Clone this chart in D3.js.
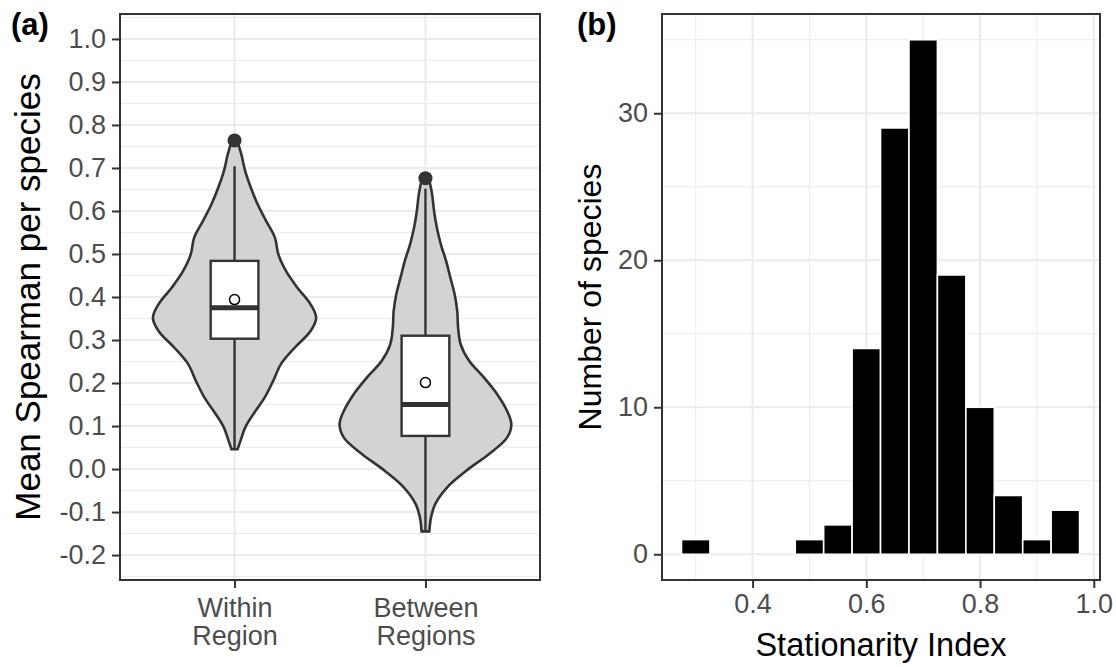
<!DOCTYPE html>
<html lang="en">
<head>
<meta charset="UTF-8">
<title>Spearman and stationarity</title>
<style>
  body { margin: 0; background: #fff; }
  svg text { font-family: "Liberation Sans", Arial, sans-serif; }
</style>
</head>
<body>
<svg id="chart" width="1116" height="667"></svg>

<script src="https://d3js.org/d3.v7.min.js"></script>
<script>

// ---- data, panel (a) ----
var groups = ["Within Region", "Between Regions"];
var groupLines = [["Within", "Region"], ["Between", "Regions"]];

// violin outlines: value, relative density (1 = widest)
var withinY = [0.765, 0.731, 0.692, 0.654, 0.615, 0.576, 0.538, 0.499, 0.460, 0.422,
  0.383, 0.352, 0.321, 0.282, 0.244, 0.205, 0.166, 0.128, 0.097, 0.066, 0.046];
var withinDens = [0.03, 0.08, 0.125, 0.19, 0.27, 0.37, 0.47, 0.51, 0.60, 0.73,
  0.885, 0.95, 0.885, 0.70, 0.54, 0.45, 0.35, 0.22, 0.125, 0.07, 0.035];
var betweenY = [0.676, 0.638, 0.600, 0.561, 0.522, 0.484, 0.445, 0.406, 0.367, 0.329,
  0.290, 0.251, 0.213, 0.174, 0.135, 0.104, 0.073, 0.035, -0.004, -0.043, -0.081, -0.112, -0.145];
var betweenDens = [0.04, 0.078, 0.10, 0.133, 0.18, 0.24, 0.29, 0.34, 0.37, 0.38,
  0.41, 0.51, 0.68, 0.835, 0.95, 1.0, 0.95, 0.74, 0.475, 0.25, 0.115, 0.065, 0.045];

var boxQ1 = [0.303, 0.077];
var boxMedian = [0.375, 0.150];
var boxQ3 = [0.484, 0.310];
var whiskerLow = [0.048, -0.145];
var whiskerHigh = [0.704, 0.652];
var groupMean = [0.394, 0.201];
var outliers = [0.764, 0.676];

var ticksA = [-0.2, -0.1, 0.0, 0.1, 0.2, 0.3, 0.4, 0.5, 0.6, 0.7, 0.8, 0.9, 1.0];
var minorA = [-0.25, -0.15, -0.05, 0.05, 0.15, 0.25, 0.35, 0.45, 0.55, 0.65, 0.75, 0.85, 0.95, 1.05];

// ---- data, panel (b) ----
var binCenters = [0.30, 0.35, 0.40, 0.45, 0.50, 0.55, 0.60, 0.65, 0.70, 0.75, 0.80, 0.85, 0.90, 0.95];
var binCounts = [1, 0, 0, 0, 1, 2, 14, 29, 35, 19, 10, 4, 1, 3];
var binWidth = 0.05;
var ticksBx = [0.4, 0.6, 0.8, 1.0];
var minorBx = [0.3, 0.5, 0.7, 0.9];
var ticksBy = [0, 10, 20, 30];
var minorBy = [5, 15, 25, 35];

var svg = d3.select("#chart");
var grid = "#ebebeb", dark = "#333333", tickText = "#4d4d4d";

function fmt(v) { return v.toFixed(1); }

// ================= panel (a) =================
var pa = { l: 120, r: 540, t: 14, b: 580 };
var xA = d3.scalePoint().domain(groups).range([pa.l, pa.r]).padding(0.6);
var yA = d3.scaleLinear().domain([-0.258, 1.058]).range([pa.b, pa.t]);
var wA = d3.scaleLinear().domain([0, 1]).range([0, 0.45 * xA.step()]);
var boxHalf = 0.125 * xA.step();

var gA = svg.append("g");

gA.selectAll(".minor").data(minorA).join("line")
  .attr("x1", pa.l).attr("x2", pa.r)
  .attr("y1", d => yA(d)).attr("y2", d => yA(d))
  .attr("stroke", grid).attr("stroke-width", 1);
gA.selectAll(".major").data(ticksA).join("line")
  .attr("x1", pa.l).attr("x2", pa.r)
  .attr("y1", d => yA(d)).attr("y2", d => yA(d))
  .attr("stroke", grid).attr("stroke-width", 2);
gA.selectAll(".vmajor").data(groups).join("line")
  .attr("x1", d => xA(d)).attr("x2", d => xA(d))
  .attr("y1", pa.t).attr("y2", pa.b)
  .attr("stroke", grid).attr("stroke-width", 2);

var violins = [
  { g: groups[0], y: withinY, d: withinDens },
  { g: groups[1], y: betweenY, d: betweenDens }
];

violins.forEach(function (v) {
  var pts = v.y.map((y, i) => ({ y: y, d: v.d[i] }));
  var cx = xA(v.g);
  var area = d3.area()
    .y(p => yA(p.y))
    .x0(p => cx - wA(p.d))
    .x1(p => cx + wA(p.d))
    .curve(d3.curveCatmullRom);
  gA.append("path")
    .attr("d", area(pts))
    .attr("fill", "#d3d3d3")
    .attr("stroke", dark)
    .attr("stroke-width", 2.6);
});

groups.forEach(function (g, i) {
  var cx = xA(g);
  gA.append("line")
    .attr("x1", cx).attr("x2", cx)
    .attr("y1", yA(whiskerHigh[i])).attr("y2", yA(boxQ3[i]))
    .attr("stroke", dark).attr("stroke-width", 2.4);
  gA.append("line")
    .attr("x1", cx).attr("x2", cx)
    .attr("y1", yA(boxQ1[i])).attr("y2", yA(whiskerLow[i]))
    .attr("stroke", dark).attr("stroke-width", 2.4);
  gA.append("rect")
    .attr("x", cx - boxHalf).attr("width", 2 * boxHalf)
    .attr("y", yA(boxQ3[i])).attr("height", yA(boxQ1[i]) - yA(boxQ3[i]))
    .attr("fill", "#fff").attr("stroke", dark).attr("stroke-width", 2.4);
  gA.append("line")
    .attr("x1", cx - boxHalf).attr("x2", cx + boxHalf)
    .attr("y1", yA(boxMedian[i])).attr("y2", yA(boxMedian[i]))
    .attr("stroke", dark).attr("stroke-width", 5);
  gA.append("circle")
    .attr("cx", cx).attr("cy", yA(outliers[i])).attr("r", 7)
    .attr("fill", dark);
  gA.append("circle")
    .attr("cx", cx).attr("cy", yA(groupMean[i])).attr("r", 5)
    .attr("fill", "#fff").attr("stroke", "#000").attr("stroke-width", 1.5);
});

gA.append("rect")
  .attr("x", pa.l).attr("y", pa.t)
  .attr("width", pa.r - pa.l).attr("height", pa.b - pa.t)
  .attr("fill", "none").attr("stroke", dark).attr("stroke-width", 2);

var axAy = gA.append("g")
  .attr("transform", "translate(" + pa.l + ",0)")
  .call(d3.axisLeft(yA).tickValues(ticksA).tickFormat(fmt).tickSize(8).tickPadding(6));
var axAx = gA.append("g")
  .attr("transform", "translate(0," + pa.b + ")")
  .call(d3.axisBottom(xA).tickSize(8).tickPadding(6));
axAx.selectAll(".tick text").each(function (d, i) {
  var t = d3.select(this).text(null).attr("dy", null);
  groupLines[i].forEach(function (s, k) {
    t.append("tspan").attr("x", 0).attr("y", 37 + k * 28).text(s);
  });
});

gA.append("text")
  .attr("transform", "translate(40," + ((pa.t + pa.b) / 2) + ") rotate(-90)")
  .attr("text-anchor", "middle")
  .style("font-size", "35px")
  .text("Mean Spearman per species");
gA.append("text")
  .attr("x", 11).attr("y", 35)
  .style("font-size", "31px").style("font-weight", "bold")
  .text("(a)");

// ================= panel (b) =================
var pb = { l: 662, r: 1100, t: 14, b: 580 };
var xB = d3.scaleLinear().domain([0.2407, 1.0109]).range([pb.l, pb.r]);
var yB = d3.scaleLinear().domain([-1.75, 36.75]).range([pb.b, pb.t]);

var gB = svg.append("g");

gB.selectAll(".hminor").data(minorBy).join("line")
  .attr("x1", pb.l).attr("x2", pb.r)
  .attr("y1", d => yB(d)).attr("y2", d => yB(d))
  .attr("stroke", grid).attr("stroke-width", 1);
gB.selectAll(".vminor").data(minorBx).join("line")
  .attr("x1", d => xB(d)).attr("x2", d => xB(d))
  .attr("y1", pb.t).attr("y2", pb.b)
  .attr("stroke", grid).attr("stroke-width", 1);
gB.selectAll(".hmajor").data(ticksBy).join("line")
  .attr("x1", pb.l).attr("x2", pb.r)
  .attr("y1", d => yB(d)).attr("y2", d => yB(d))
  .attr("stroke", grid).attr("stroke-width", 2);
gB.selectAll(".vmajor").data(ticksBx).join("line")
  .attr("x1", d => xB(d)).attr("x2", d => xB(d))
  .attr("y1", pb.t).attr("y2", pb.b)
  .attr("stroke", grid).attr("stroke-width", 2);

gB.selectAll(".bar").data(binCenters).join("rect")
  .attr("x", d => xB(d - binWidth / 2))
  .attr("width", d => xB(d + binWidth / 2) - xB(d - binWidth / 2))
  .attr("y", (d, i) => yB(binCounts[i]))
  .attr("height", (d, i) => yB(0) - yB(binCounts[i]))
  .attr("fill", "#000")
  .attr("stroke", "#fff")
  .attr("stroke-width", 1.6);

gB.append("rect")
  .attr("x", pb.l).attr("y", pb.t)
  .attr("width", pb.r - pb.l).attr("height", pb.b - pb.t)
  .attr("fill", "none").attr("stroke", dark).attr("stroke-width", 2);

var axBy = gB.append("g")
  .attr("transform", "translate(" + pb.l + ",0)")
  .call(d3.axisLeft(yB).tickValues(ticksBy).tickFormat(d => String(d)).tickSize(8).tickPadding(6));
var axBx = gB.append("g")
  .attr("transform", "translate(0," + pb.b + ")")
  .call(d3.axisBottom(xB).tickValues(ticksBx).tickFormat(fmt).tickSize(8).tickPadding(6));

gB.append("text")
  .attr("transform", "translate(601," + ((pb.t + pb.b) / 2) + ") rotate(-90)")
  .attr("text-anchor", "middle")
  .style("font-size", "32px")
  .text("Number of species");
gB.append("text")
  .attr("x", (pb.l + pb.r) / 2).attr("y", 656)
  .attr("text-anchor", "middle")
  .style("font-size", "32.5px")
  .text("Stationarity Index");
gB.append("text")
  .attr("x", 577).attr("y", 35)
  .style("font-size", "31px").style("font-weight", "bold")
  .text("(b)");

// shared axis styling
svg.selectAll(".domain").remove();
svg.selectAll(".tick line").attr("stroke", dark).attr("stroke-width", 2);
svg.selectAll(".tick text")
  .attr("fill", tickText)
  .style("font-size", "27px")
  .style("font-family", "'Liberation Sans', Arial, sans-serif");

</script>
</body>
</html>
